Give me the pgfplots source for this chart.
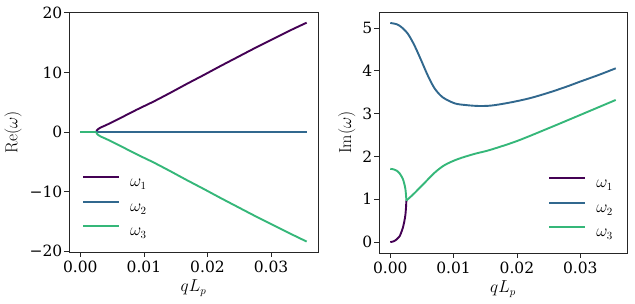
\documentclass[border=0pt]{standalone}
\usepackage[no-math]{fontspec}
\setmainfont{DejaVu Serif}
\usepackage{pgfplots}
\pgfplotsset{compat=1.18}
\definecolor{c1}{HTML}{440154}
\definecolor{c2}{HTML}{31688E}
\definecolor{c3}{HTML}{35B779}
\pgfplotsset{mystyle/.style={
  scale only axis, width=249pt,
  axis line style={black!85, line width=0.8pt},
  every tick/.style={black!85, line width=0.8pt},
  tick align=outside, major tick length=5pt,
  xtick pos=bottom, ytick pos=left,
  minor tick num=0,
  tick label style={font=\fontsize{15.5}{18}\selectfont},
  yticklabel style={inner xsep=1.5pt},
  label style={font=\fontsize{16}{19}\selectfont},
  legend style={font=\fontsize{16}{19}\selectfont, draw=none, fill=none,
    inner sep=0pt, outer sep=0pt, row sep=9pt,
    nodes={inner sep=0pt, text height=11pt, text depth=4.5pt},
    /tikz/every odd column/.append style={column sep=10pt}},
  legend cell align=left,
  legend image code/.code={\draw[#1] (0pt,6.5pt) -- (36pt,6.5pt);},
  xmin=-0.00178, xmax=0.03738,
  xtick={0,0.01,0.02,0.03}, xticklabels={0.00,0.01,0.02,0.03},
  scaled x ticks=false, scaled y ticks=false,
  xlabel={$qL_p$},
  xlabel style={at={(axis description cs:0.5,-0.151)}, anchor=center},
  every axis plot/.append style={line width=1.9pt, line join=round},
}}
\begin{document}
\begin{tikzpicture}
\useasboundingbox (0,0) rectangle (635pt,304pt);
\begin{axis}[mystyle, at={(69pt,52pt)}, anchor=south west, height=240pt,
  ymin=-20.15, ymax=20.15,
  ytick={-20,-10,0,10,20}, yticklabels={−20,−10,0,10,20},
  ylabel={$\mathrm{Re}(\omega)$},
  ylabel style={at={(axis description cs:-0.225,0.5)}, anchor=center},
  legend style={at={(axis description cs:0.053,0.048)}, anchor=south west}]
\addplot[c1, smooth, tension=0.4] coordinates {(0.0025,0) (0.0026,0.28) (0.0028,0.48) (0.003,0.63) (0.0033,0.8) (0.0037,0.99) (0.0045,1.38) (0.005,1.65) (0.0065,2.45) (0.0089,3.76) (0.0115,5.1) (0.0141,6.55) (0.0167,8.05) (0.0194,9.56) (0.022,11.05) (0.0246,12.5) (0.0272,13.95) (0.0298,15.35) (0.0327,16.9) (0.0356,18.36)};
\addlegendentry{$\omega_1$}
\addplot[c2] coordinates {(0,0) (0.0356,0)};
\addlegendentry{$\omega_2$}
\addplot[c3, forget plot] coordinates {(0,0) (0.0025,0)};
\addplot[c3, smooth, tension=0.4] coordinates {(0.0025,0) (0.0026,-0.28) (0.0028,-0.48) (0.003,-0.63) (0.0033,-0.8) (0.0037,-0.99) (0.0045,-1.38) (0.005,-1.65) (0.0065,-2.45) (0.0089,-3.76) (0.0115,-5.1) (0.0141,-6.55) (0.0167,-8.05) (0.0194,-9.56) (0.022,-11.05) (0.0246,-12.5) (0.0272,-13.95) (0.0298,-15.35) (0.0327,-16.9) (0.0356,-18.4)};
\addlegendentry{$\omega_3$}
\end{axis}
\begin{axis}[mystyle, at={(379pt,51pt)}, anchor=south west, width=248pt, height=241pt,
  ymin=-0.256, ymax=5.376,
  ytick={0,1,2,3,4,5}, yticklabels={0,1,2,3,4,5},
  ylabel={$\mathrm{Im}(\omega)$},
  ylabel style={at={(axis description cs:-0.130,0.5)}, anchor=center},
  legend style={at={(axis description cs:0.683,0.048)}, anchor=south west}]
\addplot[c1, smooth, tension=0.4] coordinates {(0,0) (0.0005,0.015) (0.001,0.06) (0.0015,0.14) (0.0017,0.21) (0.002,0.34) (0.0022,0.47) (0.0023,0.55) (0.0024,0.65) (0.0025,0.84) (0.00254,0.97)};
\addlegendentry{$\omega_1$}
\addplot[c2, smooth, tension=0.5] coordinates {(0,5.12) (0.001,5.09) (0.0017,5.03) (0.00276,4.87) (0.0038,4.60) (0.00487,4.25) (0.0059,3.90) (0.007,3.59) (0.0083,3.38) (0.0102,3.24) (0.012,3.20) (0.0139,3.18) (0.016,3.19) (0.0189,3.26) (0.022,3.36) (0.025,3.49) (0.028,3.64) (0.03,3.75) (0.033,3.91) (0.0356,4.06)};
\addlegendentry{$\omega_2$}
\addplot[c3, smooth, tension=0.4, forget plot] coordinates {(0,1.71) (0.0005,1.70) (0.001,1.67) (0.0015,1.60) (0.002,1.47) (0.0023,1.31) (0.0024,1.23) (0.0025,1.07) (0.00254,0.97)};
\addplot[c3, smooth, tension=0.5] coordinates {(0.00254,0.97) (0.003,1.03) (0.0038,1.14) (0.0054,1.38) (0.007,1.62) (0.0086,1.80) (0.0107,1.94) (0.0133,2.06) (0.0157,2.15) (0.02,2.36) (0.025,2.66) (0.03,2.97) (0.0356,3.32)};
\addlegendentry{$\omega_3$}
\end{axis}
\end{tikzpicture}
\end{document}
